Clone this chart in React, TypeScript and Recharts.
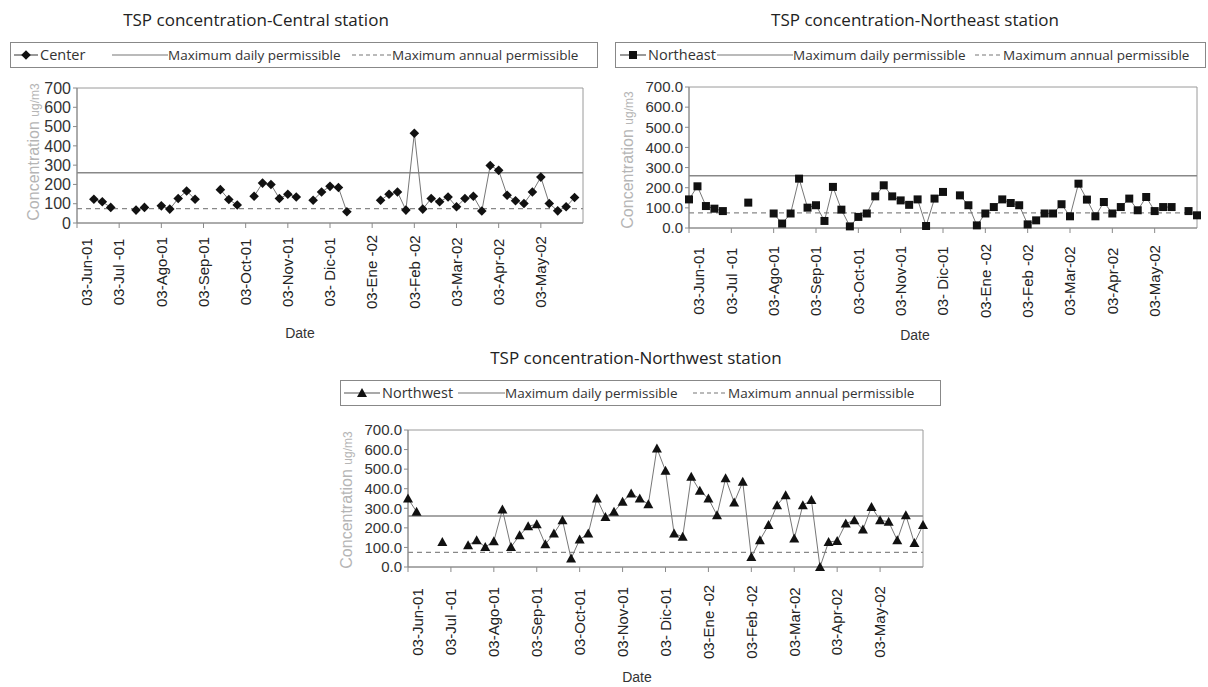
import React from "react";
import { LineChart, Line, XAxis, YAxis, ReferenceLine, ReferenceArea } from "recharts";

// one sampling slot every ~6 days, 03-Jun-01 .. early Jun-02
const SLOT_COUNT = 61;
const MONTH_TICKS = [0, 5, 10, 15, 20, 25, 30, 35, 40, 45, 50, 55];
const MONTH_LABELS = [
  "03-Jun-01",
  "03-Jul -01",
  "03-Ago-01",
  "03-Sep-01",
  "03-Oct-01",
  "03-Nov-01",
  "03- Dic-01",
  "03-Ene -02",
  "03-Feb -02",
  "03-Mar-02",
  "03-Apr-02",
  "03-May-02",
];
const Y_TICKS = [0, 100, 200, 300, 400, 500, 600, 700];
const DAILY_PERMISSIBLE = 260;
const ANNUAL_PERMISSIBLE = 75;

// TSP ug/m3 per slot, null = no sample
const centerValues = [
  null, null, 123, 110, 81, null, null, 67, 81, null,
  89, 72, 127, 166, 123, null, null, 173, 122, 93,
  null, 139, 207, 200, 127, 149, 135, null, 118, 161,
  190, 184, 58, null, null, null, 118, 149, 161, 67,
  465, 72, 127, 110, 135, 84, 127, 139, 62, 298,
  273, 144, 115, 101, 161, 238, 101, 63, 84, 132,
  null,
];
const northeastValues = [
  142, 207, 109, 96, 84, null, null, 126, null, null,
  72, 22, 72, 245, 101, 113, 35, 204, 91, 8,
  55, 72, 157, 212, 157, 137, 115, 142, 10, 146,
  179, null, 162, 113, 13, 72, 104, 142, 124, 113,
  18, 38, 72, 72, 118, 58, 220, 141, 58, 129,
  72, 104, 146, 88, 154, 84, 104, 104, null, 84,
  63,
];
const northwestValues = [
  350, 282, null, null, 128, null, null, 111, 137, 102,
  132, 294, 102, 162, 208, 219, 116, 171, 239, 43,
  140, 171, 350, 256, 282, 333, 376, 350, 321, 606,
  492, 171, 154, 461, 389, 350, 265, 453, 330, 435,
  51, 137, 214, 316, 367, 145, 316, 342, 0, 128,
  133, 222, 239, 191, 307, 239, 231, 137, 265, 123,
  214,
];

const rows = Array.from({ length: SLOT_COUNT }, (_, i) => ({
  slot: i,
  center: centerValues[i],
  northeast: northeastValues[i],
  northwest: northwestValues[i],
}));

const SANS = "'Liberation Sans', Arial, sans-serif";
const TITLE_FONT = "'Open Sans', sans-serif";
const AXIS_GREY = "#8a8a8a";

type Shape = "diamond" | "square" | "triangle";

function markerPath(shape: Shape, cx: number, cy: number) {
  if (shape === "diamond") {
    const r = 4.8;
    return `M${cx},${cy - r}L${cx + r},${cy}L${cx},${cy + r}L${cx - r},${cy}Z`;
  }
  if (shape === "square") {
    const r = 4;
    return `M${cx - r},${cy - r}H${cx + r}V${cy + r}H${cx - r}Z`;
  }
  const r = 5;
  return `M${cx},${cy - r}L${cx + r},${cy + r * 0.8}L${cx - r},${cy + r * 0.8}Z`;
}

function MonthTick(props: any) {
  const { x, payload, labelY } = props;
  const label = MONTH_LABELS[Math.round(payload.value / 5)];
  const cx = x + (payload.value === 0 ? 10 : 0);
  return (
    <text
      x={cx}
      y={labelY}
      dy="0.35em"
      transform={`rotate(-90 ${cx} ${labelY})`}
      textAnchor="middle"
      fontSize={15}
      fontFamily={SANS}
      fill="#222"
    >
      {label}
    </text>
  );
}

interface StationChartProps {
  left: number;
  top: number;
  width: number;
  height: number;
  marginTop: number;
  marginRight: number;
  yAxisWidth: number;
  xAxisHeight: number;
  labelY: number;
  dataKey: string;
  shape: Shape;
  decimals: boolean;
}

function StationChart(p: StationChartProps) {
  const renderDot = (d: any) => {
    if (d.cx == null || d.cy == null || d.value == null) return <g key={`m-${d.index}`} />;
    return <path key={`m-${d.index}`} d={markerPath(p.shape, d.cx, d.cy)} fill="#111" />;
  };
  return (
    <div style={{ position: "absolute", left: p.left, top: p.top }}>
      <LineChart
        width={p.width}
        height={p.height}
        data={rows}
        margin={{ top: p.marginTop, right: p.marginRight, bottom: 0, left: 0 }}
      >
        <XAxis
          dataKey="slot"
          type="number"
          domain={[0, 60]}
          ticks={MONTH_TICKS}
          interval={0}
          height={p.xAxisHeight}
          tickSize={5}
          axisLine={{ stroke: AXIS_GREY }}
          tickLine={{ stroke: AXIS_GREY }}
          tick={<MonthTick labelY={p.labelY} />}
        />
        <YAxis
          type="number"
          domain={[0, 700]}
          ticks={Y_TICKS}
          interval={0}
          width={p.yAxisWidth}
          tickSize={4}
          axisLine={{ stroke: AXIS_GREY }}
          tickLine={{ stroke: AXIS_GREY }}
          tick={{ fill: "#333", fontSize: p.decimals ? 15 : 16, fontFamily: SANS }}
          tickFormatter={(v: number) => (p.decimals ? v.toFixed(1) : String(v))}
        />
        <ReferenceArea x1={0} x2={60} y1={0} y2={700} fill="none" stroke="#9a9a9a" strokeWidth={1} />
        <ReferenceLine y={DAILY_PERMISSIBLE} stroke="#888" strokeWidth={1.5} />
        <ReferenceLine y={ANNUAL_PERMISSIBLE} stroke="#888" strokeWidth={1.2} strokeDasharray="5 4" />
        <Line
          type="linear"
          dataKey={p.dataKey}
          stroke="#777"
          strokeWidth={1}
          dot={renderDot}
          activeDot={false}
          connectNulls={false}
          isAnimationActive={false}
        />
      </LineChart>
    </div>
  );
}

function LegendMarkerLine({ x1, x2, y, shape }: { x1: number; x2: number; y: number; shape: Shape }) {
  return (
    <g>
      <line x1={x1} x2={x2} y1={y} y2={y} stroke="#555" strokeWidth={1.2} />
      <path d={markerPath(shape, (x1 + x2) / 2, y)} fill="#111" />
    </g>
  );
}

function StationLegend(props: {
  x: number;
  y: number;
  w: number;
  shape: Shape;
  name: string;
  marker: [number, number];
  nameX: number;
  daily: [number, number];
  annual: [number, number];
}) {
  const cy = props.y + 13;
  return (
    <g>
      <rect x={props.x + 0.5} y={props.y + 0.5} width={props.w} height={25} fill="#fff" stroke="#888" />
      <LegendMarkerLine x1={props.marker[0]} x2={props.marker[1]} y={cy} shape={props.shape} />
      <text x={props.nameX} y={cy} dy="0.35em" fontSize={14.5} fontFamily={TITLE_FONT} fill="#333">
        {props.name}
      </text>
      <line x1={props.daily[0]} x2={props.daily[1]} y1={cy} y2={cy} stroke="#777" strokeWidth={1.2} />
      <text x={props.daily[1]} y={cy} dy="0.35em" fontSize={13.5} fontFamily={TITLE_FONT} fill="#333">
        Maximum daily permissible
      </text>
      <line
        x1={props.annual[0]}
        x2={props.annual[1]}
        y1={cy}
        y2={cy}
        stroke="#777"
        strokeWidth={1.2}
        strokeDasharray="4 3"
      />
      <text x={props.annual[1]} y={cy} dy="0.35em" fontSize={13.5} fontFamily={TITLE_FONT} fill="#333">
        Maximum annual permissible
      </text>
    </g>
  );
}

function YTitle({ x, y }: { x: number; y: number }) {
  return (
    <text
      x={x}
      y={y}
      dy="0.35em"
      transform={`rotate(-90 ${x} ${y})`}
      textAnchor="middle"
      fontFamily={SANS}
      fill="#b5b5b5"
      fontSize={16}
    >
      Concentration <tspan fontSize={12}>ug/m3</tspan>
    </text>
  );
}

export default function App() {
  return (
    <div style={{ position: "absolute", left: 0, top: 0, width: 1208, height: 687, background: "#fff" }}>
      <StationChart
        left={0}
        top={0}
        width={600}
        height={345}
        marginTop={88}
        marginRight={17}
        yAxisWidth={77}
        xAxisHeight={122}
        labelY={272}
        dataKey="center"
        shape="diamond"
        decimals={false}
      />
      <StationChart
        left={600}
        top={0}
        width={608}
        height={345}
        marginTop={87}
        marginRight={11}
        yAxisWidth={89}
        xAxisHeight={117}
        labelY={281}
        dataKey="northeast"
        shape="square"
        decimals={true}
      />
      <StationChart
        left={320}
        top={345}
        width={630}
        height={342}
        marginTop={85}
        marginRight={27}
        yAxisWidth={88}
        xAxisHeight={120}
        labelY={277}
        dataKey="northwest"
        shape="triangle"
        decimals={true}
      />
      <svg
        width={1208}
        height={687}
        style={{ position: "absolute", left: 0, top: 0, pointerEvents: "none" }}
      >
        <g fontFamily={TITLE_FONT} fontSize={17} fill="#222" textAnchor="middle">
          <text x={256} y={26}>TSP concentration-Central station</text>
          <text x={915} y={26}>TSP concentration-Northeast station</text>
          <text x={636} y={364}>TSP concentration-Northwest station</text>
        </g>
        <StationLegend
          x={10}
          y={42}
          w={587}
          shape="diamond"
          name="Center"
          marker={[14, 38]}
          nameX={40}
          daily={[112, 168]}
          annual={[352, 392]}
        />
        <StationLegend
          x={615}
          y={42}
          w={590}
          shape="square"
          name="Northeast"
          marker={[620, 646]}
          nameX={648}
          daily={[717, 793]}
          annual={[975, 1003]}
        />
        <StationLegend
          x={340}
          y={380}
          w={600}
          shape="triangle"
          name="Northwest"
          marker={[344, 380]}
          nameX={382}
          daily={[458, 505]}
          annual={[693, 728]}
        />
        <YTitle x={33} y={152} />
        <YTitle x={627} y={160} />
        <YTitle x={346} y={500} />
        <g fontFamily={SANS} fontSize={14} fill="#333" textAnchor="middle">
          <text x={300} y={338}>Date</text>
          <text x={915} y={340}>Date</text>
          <text x={637} y={682}>Date</text>
        </g>
      </svg>
    </div>
  );
}
